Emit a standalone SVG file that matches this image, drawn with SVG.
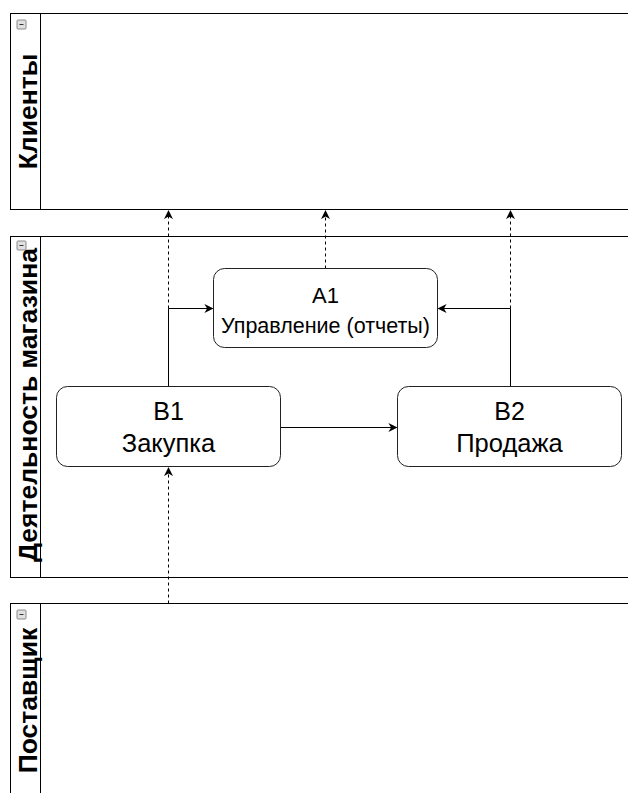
<svg xmlns="http://www.w3.org/2000/svg" width="628" height="793" viewBox="0 0 628 793">
<style>
.lane{fill:#fff;stroke:#000;stroke-width:1}
.node{fill:#fff;stroke:#222;stroke-width:1}
.lbl{font-family:"Liberation Sans",Arial,sans-serif;font-weight:bold;font-size:26.5px;fill:#000}
.t{font-family:"Liberation Sans",Arial,sans-serif;fill:#000;text-anchor:middle}
.e{fill:none;stroke:#000;stroke-width:1}
.d{stroke-dasharray:3 3}
.ic{fill:#e0e0e0;stroke:#8a8a8a;stroke-width:1}
</style>
<defs>
<marker id="ar" viewBox="0 0 10 10" refX="9" refY="5" markerWidth="9" markerHeight="9" markerUnits="userSpaceOnUse" orient="auto">
<path d="M0,0 L10,5 L0,10 L3,5 Z" fill="#000"/>
</marker>
<g id="icon"><rect class="ic" x="0" y="0" width="9" height="9" rx="1"/><line x1="2.5" y1="4.5" x2="6.5" y2="4.5" stroke="#333" stroke-width="1"/></g>
</defs>
<g id="lane-clients">
<rect class="lane" x="10.5" y="13.5" width="640" height="196"/>
<line class="e" x1="40.5" y1="13.5" x2="40.5" y2="209.5"/>
<use href="#icon" x="17" y="20"/>
<text class="lbl" transform="translate(37,111.5) rotate(-90)" text-anchor="middle">Клиенты</text>
</g>
<g id="lane-shop">
<rect class="lane" x="10.5" y="236.5" width="640" height="341"/>
<line class="e" x1="40.5" y1="236.5" x2="40.5" y2="577.5"/>
<use href="#icon" x="17" y="241"/>
<text class="lbl" transform="translate(37,405) rotate(-90)" text-anchor="middle">Деятельность магазина</text>
</g>
<g id="lane-supplier">
<rect class="lane" x="10.5" y="603.5" width="640" height="200"/>
<line class="e" x1="40.5" y1="603.5" x2="40.5" y2="803.5"/>
<use href="#icon" x="17" y="610"/>
<text class="lbl" transform="translate(37,700.5) rotate(-90)" text-anchor="middle">Поставщик</text>
</g>
<g id="connectors">
<path class="e d" d="M168.5,603.5 L168.5,468" marker-end="url(#ar)"/>
<path class="e d" d="M168.5,308.5 L168.5,211" marker-end="url(#ar)"/>
<path class="e" d="M168.5,386.5 L168.5,308.5 L212.5,308.5" marker-end="url(#ar)"/>
<path class="e d" d="M325.5,268.5 L325.5,211" marker-end="url(#ar)"/>
<path class="e d" d="M510.5,308.5 L510.5,211" marker-end="url(#ar)"/>
<path class="e" d="M510.5,386.5 L510.5,308.5 L438.5,308.5" marker-end="url(#ar)"/>
<path class="e" d="M280.5,427.5 L396.5,427.5" marker-end="url(#ar)"/>
</g>
<g id="node-a1">
<rect class="node" x="213.5" y="268.5" width="224" height="79" rx="11"/>
<text class="t" x="325.5" y="303" font-size="22">A1</text>
<text class="t" x="325.5" y="333" font-size="21.5">Управление (отчеты)</text>
</g>
<g id="node-b1">
<rect class="node" x="56.5" y="386.5" width="224" height="80" rx="11"/>
<text class="t" x="168.5" y="420" font-size="25">B1</text>
<text class="t" x="168.5" y="452" font-size="25.5">Закупка</text>
</g>
<g id="node-b2">
<rect class="node" x="397.5" y="386.5" width="224" height="80" rx="11"/>
<text class="t" x="509.5" y="420" font-size="25">B2</text>
<text class="t" x="509.5" y="452" font-size="25.5">Продажа</text>
</g>
</svg>
